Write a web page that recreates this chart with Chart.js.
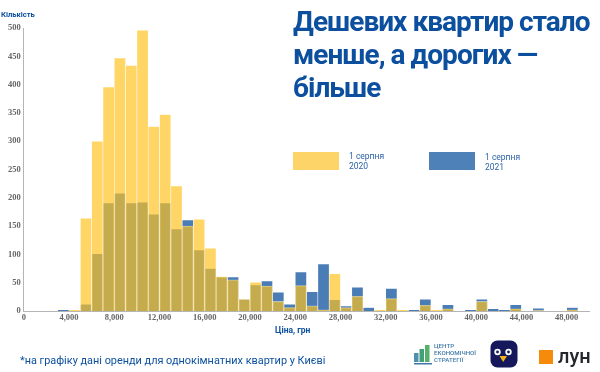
<!DOCTYPE html>
<html lang="uk">
<head>
<meta charset="utf-8">
<title>Дешевих квартир стало менше</title>
<script src="https://cdn.jsdelivr.net/npm/chart.js@4"></script>
<style>
    html, body { margin: 0; padding: 0; background: #fff; }
    #wrap { position: relative; width: 600px; height: 372px; overflow: hidden; font-family: Roboto, sans-serif; color: #0b4f9e; }
    #wrap canvas { position: absolute; left: 0; top: 0; }
    .txt { position: absolute; white-space: nowrap; }
    #yTitle { left: 1px; top: 10px; font-size: 7.6px; font-weight: 700; }
    #xTitle { left: 275px; top: 325px; font-size: 8.5px; font-weight: 700; }
    #title { left: 293px; top: 5px; font-size: 28px; font-weight: 700; line-height: 33px; letter-spacing: -0.97px; }
    #note { left: 20px; top: 354px; font-size: 10.9px; }
    .swatch { position: absolute; width: 46px; height: 18px; }
    .legText { position: absolute; font-size: 8.5px; line-height: 10px; color: #2c62a6; }
    #cesText { left: 434px; top: 342.5px; font-size: 6.2px; line-height: 7.4px; font-weight: 500; color: #3f79a8; }
    #lun { left: 558px; top: 344px; font-size: 20px; font-weight: 500; color: #23262b; }
</style>
</head>
<body>
<div id="wrap">
    <canvas id="histChart" width="600" height="372"></canvas>
    <div class="txt" id="yTitle">Кількість</div>
    <div class="txt" id="xTitle">Ціна, грн</div>
    <div class="txt" id="title">Дешевих квартир стало<br>менше, а дорогих —<br>більше</div>
    <div id="legend"></div>
    <div class="txt" id="note">*на графіку дані оренди для однокімнатних квартир у Києві</div>
    <svg style="position:absolute;left:413px;top:341px" width="20" height="26">
        <rect x="1" y="12" width="4.5" height="9" fill="#4f8fb0"/>
        <rect x="6.5" y="8" width="4.5" height="13" fill="#3fa07a"/>
        <rect x="12" y="4" width="4.5" height="17" fill="#56b06a"/>
        <rect x="1" y="22" width="18" height="1.5" fill="#3f79a8"/>
    </svg>
    <div class="txt" id="cesText">ЦЕНТР<br>ЕКОНОМІЧНОЇ<br>СТРАТЕГІЇ</div>
    <svg style="position:absolute;left:490px;top:340px" width="28" height="28">
        <rect x="0.5" y="0.5" width="27" height="27" rx="7" fill="#15195c"/>
        <circle cx="7.5" cy="12" r="3.2" fill="#fff"/>
        <circle cx="18.5" cy="12" r="3.2" fill="#fff"/>
        <circle cx="7.5" cy="12" r="1.4" fill="#15195c"/>
        <circle cx="18.5" cy="12" r="1.4" fill="#15195c"/>
        <path d="M9.5 16 L17 16 L13.2 22 Z" fill="#f6b21b"/>
    </svg>
    <svg style="position:absolute;left:539px;top:350px" width="14" height="14">
        <rect width="14" height="14" fill="#f58a0b"/>
    </svg>
    <div class="txt" id="lun">лун</div>
</div>
<script>
// початок кожного інтервалу ціни, крок 1000 грн
const binStarts = [3000, 4000, 5000, 6000, 7000, 8000, 9000, 10000, 11000, 12000, 13000, 14000, 15000, 16000, 17000, 18000,
    19000, 20000, 21000, 22000, 23000, 24000, 25000, 26000, 27000, 28000, 29000, 30000, 31000, 32000, 33000, 34000,
    35000, 36000, 37000, 38000, 39000, 40000, 41000, 42000, 43000, 44000, 45000, 46000, 47000, 48000];

const values2020 = [0, 2, 164, 300, 396, 447, 434, 496, 326, 347, 221, 150, 162, 111, 61, 55,
    21, 51, 44, 17, 6, 45, 9, 2, 66, 6, 26, 0, 2, 22, 2, 0,
    10, 2, 4, 0, 0, 17, 0, 0, 4, 0, 1, 0, 0, 2];

const values2021 = [2, 0, 12, 101, 191, 208, 191, 192, 171, 191, 145, 161, 108, 75, 60, 60,
    21, 46, 53, 33, 12, 69, 34, 83, 20, 9, 42, 6, 0, 40, 0, 2,
    21, 0, 11, 0, 2, 21, 4, 2, 11, 0, 5, 0, 0, 6];

const seriesLabels = ["1 серпня\n2020", "1 серпня\n2021"];
const xTicks = [0, 4000, 8000, 12000, 16000, 20000, 24000, 28000, 32000, 36000, 40000, 44000, 48000];
const yTicks = [0, 50, 100, 150, 200, 250, 300, 350, 400, 450, 500];

const toPoints = (vals) => vals.map((v, i) => ({ x: binStarts[i] + 500, y: v }));

const tickFont = { family: "'Liberation Serif', serif", weight: "bold", size: 8.5 };

new Chart(document.getElementById("histChart"), {
    type: "bar",
    data: {
        datasets: [
            {
                label: seriesLabels[0],
                data: toPoints(values2020),
                backgroundColor: "rgba(255, 193, 28, 0.68)",
                borderColor: "rgba(255, 255, 255, 0.55)",
                borderWidth: 0.6,
                grouped: false,
                barPercentage: 1,
                categoryPercentage: 1
            },
            {
                label: seriesLabels[1],
                data: toPoints(values2021),
                backgroundColor: "#4a7db6",
                borderColor: "rgba(255, 255, 255, 0.55)",
                borderWidth: 0.6,
                grouped: false,
                barPercentage: 1,
                categoryPercentage: 1
            }
        ]
    },
    options: {
        responsive: false,
        animation: false,
        layout: { padding: { top: 28, right: 10.7, left: 0, bottom: 36 } },
        plugins: { legend: { display: false }, tooltip: { enabled: false } },
        scales: {
            x: {
                type: "linear",
                offset: false,
                min: 0,
                max: 50000,
                afterFit: (s) => { s.height = 25; },
                afterBuildTicks: (s) => { s.ticks = xTicks.map(v => ({ value: v })); },
                grid: { display: false, drawTicks: false },
                border: { color: "#b5b5b5", width: 1 },
                ticks: {
                    autoSkip: false,
                    padding: 2,
                    maxRotation: 0,
                    color: "#666",
                    font: tickFont,
                    callback: (v) => v.toLocaleString("en-US")
                }
            },
            y: {
                min: 0,
                max: 500,
                afterFit: (s) => { s.width = 23.8; },
                afterBuildTicks: (s) => { s.ticks = yTicks.map(v => ({ value: v })); },
                grid: { display: false, drawTicks: false },
                border: { color: "#b5b5b5", width: 1 },
                ticks: { autoSkip: false, padding: 3, color: "#666", font: tickFont }
            }
        }
    }
});

// легенда окремо, бо стоїть під заголовком, а не біля осі
const legendSpots = [
    { swatch: [293, 152], text: [349, 151], color: "#fdd468" },
    { swatch: [429, 152], text: [485, 152], color: "#4f81b9" }
];
const legend = document.getElementById("legend");
legendSpots.forEach((spot, i) => {
    const sw = document.createElement("div");
    sw.className = "swatch";
    sw.style.cssText = `left:${spot.swatch[0]}px;top:${spot.swatch[1]}px;background:${spot.color}`;
    legend.appendChild(sw);
    const tx = document.createElement("div");
    tx.className = "legText";
    tx.style.cssText = `left:${spot.text[0]}px;top:${spot.text[1]}px;white-space:pre`;
    tx.textContent = seriesLabels[i];
    legend.appendChild(tx);
});
</script>
</body>
</html>
